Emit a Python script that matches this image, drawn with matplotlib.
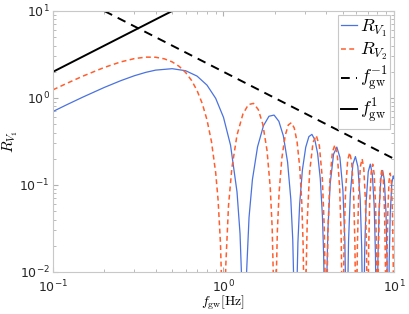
import matplotlib
matplotlib.use("Agg")
import matplotlib.pyplot as plt
import numpy as np

plt.rcParams["mathtext.fontset"] = "cm"

# R_V1 (blue, solid)
f_v1 = [0.1, 0.12, 0.15, 0.2, 0.25, 0.3, 0.35, 0.4, 0.5, 0.6, 0.7, 0.8, 0.9, 1.0, 1.1, 1.2, 1.25, 1.29, 1.32,
        1.36, 1.412, 1.478, 1.584, 1.716, 1.848, 1.98, 2.112, 2.244, 2.376, 2.482, 2.548, 2.6, 2.64,
        2.68, 2.732, 2.798, 2.904, 3.036, 3.168, 3.3, 3.432, 3.564, 3.696, 3.802, 3.868, 3.92, 3.96,
        4.013, 4.092, 4.224, 4.422, 4.62, 4.818, 5.016, 5.148, 5.227, 5.28,
        5.333, 5.412, 5.544, 5.742, 5.94, 6.138, 6.336, 6.468, 6.547, 6.6,
        6.653, 6.732, 6.864, 7.062, 7.26, 7.458, 7.656, 7.788, 7.867, 7.92,
        7.973, 8.052, 8.184, 8.382, 8.58, 8.778, 8.976, 9.108, 9.187, 9.24,
        9.293, 9.372, 9.504, 9.702, 9.9, 10.0]
r_v1 = [0.700, 0.834, 1.026, 1.323, 1.583, 1.802, 1.971, 2.091, 2.172, 2.057, 1.784, 1.406, 0.990, 0.599,
        0.286, 0.0834, 0.0277, 0.00498, 1e-4,
        0.00821, 0.0425, 0.1155, 0.2748, 0.4806, 0.6167, 0.6364, 0.5396, 0.3675, 0.1832, 0.0688, 0.02354,
        0.00429, 1e-4,
        0.00417, 0.02195, 0.0610, 0.1499, 0.2716, 0.3597, 0.3818, 0.3321, 0.2314, 0.1178, 0.0449, 0.0155,
        0.00285, 1e-4,
        0.00493, 0.0294, 0.1031, 0.2262, 0.2727, 0.2076, 0.0868, 0.02337, 0.00378, 1e-4,
        0.00371, 0.02223, 0.0785, 0.1742, 0.2121, 0.1630, 0.0687, 0.0186, 0.00302, 1e-4,
        0.00297, 0.01787, 0.0634, 0.1416, 0.1736, 0.1341, 0.0569, 0.01545, 0.00251, 1e-4,
        0.00248, 0.01494, 0.0532, 0.1193, 0.1469, 0.1140, 0.0485, 0.01321, 0.00215, 1e-4,
        0.00213, 0.01284, 0.0458, 0.1031, 0.1273, 0.1189]

# R_V2 (orange, dashed)
f_v2 = [0.1, 0.12, 0.15, 0.2, 0.25, 0.3, 0.35, 0.4, 0.45, 0.5, 0.55, 0.6, 0.65, 0.7, 0.75, 0.8, 0.85, 0.9,
        0.93, 0.96, 0.98, 1.0,
        1.03, 1.07, 1.12, 1.2, 1.3, 1.4, 1.5, 1.6, 1.7, 1.8, 1.88, 1.93, 1.97, 2.0,
        2.03, 2.07, 2.12, 2.2, 2.3, 2.4, 2.5, 2.6, 2.7, 2.8, 2.88, 2.93, 2.97, 3.0,
        3.04, 3.1, 3.2, 3.35, 3.5, 3.65, 3.8, 3.9, 3.96, 4.0,
        4.04, 4.1, 4.2, 4.35, 4.5, 4.65, 4.8, 4.9, 4.96, 5.0,
        5.04, 5.1, 5.2, 5.35, 5.5, 5.65, 5.8, 5.9, 5.96, 6.0,
        6.04, 6.1, 6.2, 6.35, 6.5, 6.65, 6.8, 6.9, 6.96, 7.0,
        7.04, 7.1, 7.2, 7.35, 7.5, 7.65, 7.8, 7.9, 7.96, 8.0,
        8.04, 8.1, 8.2, 8.35, 8.5, 8.65, 8.8, 8.9, 8.96, 9.0,
        9.04, 9.1, 9.2, 9.35, 9.5, 9.65, 9.8, 9.9, 9.96, 10.0]
r_v2 = [1.2415, 1.468, 1.786, 2.246, 2.6, 2.836, 2.949, 2.940, 2.818, 2.6, 2.306, 1.960, 1.588, 1.2155,
        0.8667, 0.5614, 0.3152, 0.1379, 0.0665, 0.02126, 0.00523, 1e-4,
        0.01118, 0.05783, 0.1573, 0.3743, 0.6545, 0.8399, 0.8667, 0.7349, 0.5005, 0.2495, 0.0937, 0.03206,
        0.00585, 1e-4,
        0.00567, 0.02989, 0.0831, 0.2042, 0.3699, 0.4899, 0.52, 0.4522, 0.3151, 0.1604, 0.0612, 0.02112,
        0.00388, 1e-4,
        0.00671, 0.04005, 0.1404, 0.3081, 0.3714, 0.2828, 0.1182, 0.03183, 0.00515, 1e-4,
        0.00505, 0.03028, 0.1069, 0.2373, 0.2889, 0.2219, 0.0936, 0.02534, 0.00411, 1e-4,
        0.00405, 0.02434, 0.0864, 0.1929, 0.2364, 0.1827, 0.0774, 0.02104, 0.00342, 1e-4,
        0.00338, 0.02035, 0.0724, 0.1625, 0.2, 0.1552, 0.0661, 0.01799, 0.00293, 1e-4,
        0.0029, 0.01749, 0.0624, 0.1404, 0.1733, 0.1349, 0.0576, 0.01572, 0.00256, 1e-4,
        0.00254, 0.01533, 0.0548, 0.1236, 0.1529, 0.1193, 0.0510, 0.01395, 0.00228, 1e-4,
        0.00226, 0.01364, 0.0488, 0.1104, 0.1368, 0.1070, 0.0458, 0.01254, 0.00205, 1e-4]

# power-law guide lines
f_m1 = [0.2, 10.0]
y_m1 = [10.0, 0.2]
f_p1 = [0.1, 0.5]
y_p1 = [2.0, 10.0]

fig = plt.figure(figsize=(4.09, 3.14), dpi=100)
ax = fig.add_axes([0.1296, 0.1338, 0.8337, 0.8312])

ax.plot(f_v1, r_v1, color="#4a72e0", lw=0.9, label=r"$R_{V_1}$")
ax.plot(f_v2, r_v2, color="#ff5e2e", lw=1.1, dashes=(3.2, 2.2), label=r"$R_{V_2}$")
ax.plot(f_m1, y_m1, color="black", lw=1.4, dashes=(4.5, 3.2), label=r"$f_{\rm gw}^{-1}$")
ax.plot(f_p1, y_p1, color="black", lw=1.4, label=r"$f_{\rm gw}^{1}$")

ax.set_xscale("log")
ax.set_yscale("log")
ax.set_xlim(0.1, 10)
ax.set_ylim(0.01, 10)

for sp in ax.spines.values():
    sp.set_color("#c8c8c8")
    sp.set_linewidth(0.8)
ax.tick_params(which="both", direction="in", top=True, right=True, color="#b0b0b0",
               labelsize=9, labelcolor="#262626")
ax.tick_params(which="major", length=3.5, pad=2.5)
ax.tick_params(axis="x", which="major", pad=4.5)
ax.tick_params(which="minor", length=2)

ax.set_xlabel(r"$f_{\rm gw}[{\rm Hz}]$", fontsize=10)
ax.xaxis.set_label_coords(0.5, -0.084)
ax.set_ylabel(r"$R_{V_1}$", fontsize=11)
ax.yaxis.set_label_coords(-0.098, 0.5)

leg = ax.legend(loc="upper right", fontsize=13, handlelength=0.9, handletextpad=0.15,
                borderpad=0.15, labelspacing=0.15, borderaxespad=0.2,
                fancybox=False, framealpha=1, edgecolor="#c8c8c8")
leg.get_frame().set_linewidth(0.8)

fig.savefig("out.png", dpi=100)
